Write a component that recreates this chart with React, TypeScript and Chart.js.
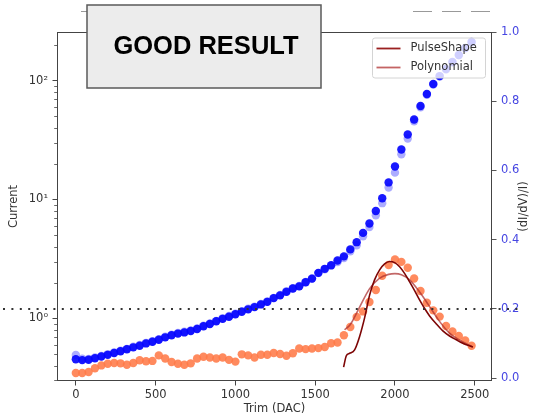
import React, { useEffect, useRef } from 'react';
import { Chart, registerables } from 'chart.js';
Chart.register(...registerables);

// ---- data ----
const trimDAC = [
  0, 40, 80, 120, 160, 200, 240, 280, 320, 360,
  400, 440, 480, 520, 560, 600, 640, 680, 720, 760,
  800, 840, 880, 920, 960, 1000, 1040, 1080, 1120, 1160,
  1200, 1240, 1280, 1320, 1360, 1400, 1440, 1480, 1520, 1560,
  1600, 1640, 1680, 1720, 1760, 1800, 1840, 1880, 1920, 1960,
  2000, 2040, 2080, 2120, 2160, 2200, 2240, 2280, 2320, 2360,
  2400, 2440, 2480,
];

const currentMain = [
  0.452, 0.445, 0.448, 0.461, 0.477, 0.493, 0.511, 0.528, 0.549, 0.570,
  0.587, 0.615, 0.635, 0.660, 0.692, 0.720, 0.744, 0.761, 0.782, 0.813,
  0.857, 0.896, 0.944, 0.990, 1.03, 1.081, 1.134, 1.190, 1.242, 1.309,
  1.376, 1.479, 1.560, 1.670, 1.780, 1.857, 2.008, 2.157, 2.412, 2.607,
  2.799, 3.060, 3.319, 3.80, 4.37, 5.23, 6.28, 8.00, 10.23, 13.9,
  18.9, 26.3, 35.2, 47.0, 61.1, 77.0, 93.5, 109, 125, 143,
  164, 188, 211,
];

const currentRepeat = [
  0.492, 0.458, 0.455, 0.468, 0.482, 0.500, 0.516, 0.535, 0.553, 0.578,
  0.596, 0.622, 0.642, 0.668, 0.700, 0.728, 0.752, 0.770, 0.792, 0.822,
  0.868, 0.905, 0.952, 1.00, 1.045, 1.095, 1.150, 1.205, 1.255, 1.320,
  1.385, 1.485, 1.575, 1.690, 1.790, 1.870, 2.02, 2.16, 2.40, 2.58,
  2.76, 2.98, 3.22, 3.66, 4.12, 4.90, 5.85, 7.35, 9.3, 12.6,
  16.8, 24.0, 32.5, 45.5, 59.5, 76.0, 92.5, 108, 124, 142,
  163, 187, 210,
];

const dIdVoverI = [
  0.015, 0.015, 0.018, 0.029, 0.037, 0.042, 0.044, 0.043, 0.039, 0.044,
  0.052, 0.049, 0.050, 0.066, 0.057, 0.047, 0.042, 0.039, 0.043, 0.057,
  0.062, 0.060, 0.057, 0.060, 0.053, 0.048, 0.069, 0.066, 0.060, 0.068,
  0.068, 0.073, 0.070, 0.065, 0.072, 0.086, 0.084, 0.086, 0.087, 0.090,
  0.101, 0.103, 0.124, 0.148, 0.177, 0.193, 0.220, 0.255, 0.296, 0.327,
  0.343, 0.336, 0.319, 0.288, 0.252, 0.218, 0.196, 0.178, 0.151, 0.135,
  0.122, 0.109, 0.094,
];

const pulseTrim = [1678, 1695, 1716, 1747, 1778, 1810, 1841, 1872, 1904, 1935, 1966, 1998, 2029, 2060, 2091, 2123, 2154, 2185, 2217, 2259, 2300, 2342, 2384, 2425, 2488];
const pulseValue = [0.032, 0.065, 0.072, 0.082, 0.120, 0.175, 0.240, 0.284, 0.313, 0.330, 0.337, 0.334, 0.322, 0.303, 0.279, 0.253, 0.226, 0.202, 0.180, 0.157, 0.137, 0.122, 0.111, 0.101, 0.090];

const polyTrim = [1684, 1720, 1780, 1840, 1900, 1960, 2000, 2040, 2090, 2150, 2210, 2270, 2340, 2400, 2488];
const polyValue = [0.140, 0.155, 0.207, 0.258, 0.288, 0.300, 0.302, 0.299, 0.285, 0.252, 0.212, 0.170, 0.131, 0.111, 0.090];

const xTicks = [0, 500, 1000, 1500, 2000, 2500];
const leftMajorTicks = [1, 10, 100];
const leftMajorLabels = ['10\u2070', '10\u00B9', '10\u00B2'];
const leftMinorTicks = [0.3, 0.4, 0.5, 0.6, 0.7, 0.8, 0.9, 2, 3, 4, 5, 6, 7, 8, 9, 20, 30, 40, 50, 60, 70, 80, 90, 200];
const rightTicks = [0, 0.2, 0.4, 0.6, 0.8, 1.0];
const thresholdLevel = 0.2;
const legendLabels = ['PulseShape', 'Polynomial'];
const bannerText = 'GOOD RESULT';

const FONT = "'DejaVu Sans', sans-serif";
const PULSE_COLOR = '#7d0505';
const POLY_COLOR = 'rgba(170,45,45,0.72)';

export default function App() {
  const ref = useRef<HTMLCanvasElement | null>(null);

  useEffect(() => {
    document.body.style.margin = '0';
    const canvas = ref.current;
    if (!canvas) return;

    const overlay = {
      id: 'overlay',
      afterDatasetsDraw(chart: any) {
        const ctx = chart.ctx;
        const ca = chart.chartArea;
        const y = chart.scales.y;
        const y1 = chart.scales.y1;
        ctx.save();
        ctx.strokeStyle = '#444';
        ctx.lineWidth = 0.8;
        for (const v of leftMinorTicks) {
          const py = Math.round(y.getPixelForValue(v)) + 0.5;
          if (py < ca.top || py > ca.bottom) continue;
          ctx.beginPath();
          ctx.moveTo(ca.left, py);
          ctx.lineTo(ca.left - 2.8, py);
          ctx.stroke();
        }
        ctx.strokeStyle = '#444';
        ctx.lineWidth = 1;
        ctx.strokeRect(ca.left + 0.5, ca.top + 0.5, ca.right - ca.left - 1, ca.bottom - ca.top - 1);
        const ty = y1.getPixelForValue(thresholdLevel);
        ctx.strokeStyle = '#333';
        ctx.lineWidth = 2;
        ctx.setLineDash([2, 6.4]);
        ctx.beginPath();
        ctx.moveTo(3, ty);
        ctx.lineTo(522, ty);
        ctx.stroke();
        ctx.restore();
      },
      afterDraw(chart: any) {
        const ctx = chart.ctx;
        const ca = chart.chartArea;
        ctx.save();
        ctx.fillStyle = '#333';
        ctx.font = `11.5px ${FONT}`;
        ctx.textAlign = 'center';
        ctx.textBaseline = 'middle';
        ctx.fillText('Trim (DAC)', (ca.left + ca.right) / 2, 409);
        const midY = (ca.top + ca.bottom) / 2;
        ctx.save();
        ctx.translate(14, midY);
        ctx.rotate(-Math.PI / 2);
        ctx.fillText('Current', 0, 0);
        ctx.restore();
        ctx.save();
        ctx.translate(524, midY);
        ctx.rotate(-Math.PI / 2);
        ctx.fillText('(dI/dV)/I)', 0, 0);
        ctx.restore();

        const lw = 113, lh = 40;
        const lx = ca.right - 6.5 - lw;
        const ly = ca.top + 6;
        ctx.fillStyle = 'rgba(255,255,255,0.8)';
        ctx.strokeStyle = '#d4d4d4';
        ctx.lineWidth = 1;
        ctx.beginPath();
        (ctx as any).roundRect ? (ctx as any).roundRect(lx, ly, lw, lh, 2.5) : ctx.rect(lx, ly, lw, lh);
        ctx.fill();
        ctx.stroke();
        ctx.textAlign = 'left';
        ctx.font = `11.5px ${FONT}`;
        legendLabels.forEach((lab, i) => {
          const yy = ly + 10.5 + i * 19;
          ctx.strokeStyle = i === 0 ? '#9a2020' : '#c46464';
          ctx.lineWidth = 1.8;
          ctx.beginPath();
          ctx.moveTo(lx + 4, yy);
          ctx.lineTo(lx + 28, yy);
          ctx.stroke();
          ctx.fillStyle = '#333';
          ctx.fillText(lab, lx + 38, yy);
        });

        ctx.strokeStyle = '#999';
        ctx.lineWidth = 1;
        ctx.beginPath();
        ctx.moveTo(81, 11.5);
        ctx.lineTo(87, 11.5);
        ctx.stroke();
        ctx.strokeStyle = '#999';
        ctx.setLineDash([19, 10]);
        ctx.beginPath();
        ctx.moveTo(413, 11.5);
        ctx.lineTo(495, 11.5);
        ctx.stroke();
        ctx.setLineDash([]);

        ctx.fillStyle = '#ececec';
        ctx.strokeStyle = '#5a5a5a';
        ctx.lineWidth = 1.5;
        ctx.fillRect(87, 5, 234, 83);
        ctx.strokeRect(87, 5, 234, 83);
        ctx.fillStyle = '#000';
        ctx.font = `bold 25.5px 'Liberation Sans', Arial, sans-serif`;
        ctx.textAlign = 'center';
        ctx.textBaseline = 'middle';
        ctx.fillText(bannerText, 206, 47);
        ctx.restore();
      },
    };

    const toXY = (xs: number[], ys: number[]) => xs.map((x, i) => ({ x, y: ys[i] }));

    const chart = new Chart(canvas, {
      type: 'scatter',
      data: {
        datasets: [
          {
            label: 'PulseShape',
            data: toXY(pulseTrim, pulseValue),
            yAxisID: 'y1',
            showLine: true,
            borderColor: PULSE_COLOR,
            borderWidth: 1.6,
            pointRadius: 0,
            tension: 0.4,
            cubicInterpolationMode: 'monotone',
          },
          {
            label: 'Polynomial',
            data: toXY(polyTrim, polyValue),
            yAxisID: 'y1',
            showLine: true,
            borderColor: POLY_COLOR,
            borderWidth: 1.6,
            pointRadius: 0,
            tension: 0.4,
            cubicInterpolationMode: 'monotone',
          },
          {
            label: 'dIdV',
            data: toXY(trimDAC, dIdVoverI),
            yAxisID: 'y1',
            backgroundColor: 'rgba(255,122,72,0.88)',
            borderWidth: 0,
            pointRadius: 4.2,
          },
          {
            label: 'Current',
            data: toXY(trimDAC, currentMain),
            yAxisID: 'y',
            backgroundColor: 'rgba(5,5,255,0.92)',
            borderWidth: 0,
            pointRadius: 4.2,
          },
          {
            label: 'Current repeat',
            data: toXY(trimDAC, currentRepeat),
            yAxisID: 'y',
            backgroundColor: 'rgba(70,70,255,0.45)',
            borderWidth: 0,
            pointRadius: 4.2,
          },
        ],
      },
      options: {
        animation: false,
        responsive: true,
        maintainAspectRatio: false,
        layout: { padding: { top: 32, left: 0, right: 0, bottom: 0 } },
        plugins: { legend: { display: false }, tooltip: { enabled: false } },
        scales: {
          x: {
            type: 'linear',
            position: 'bottom',
            min: -118,
            max: 2608,
            afterBuildTicks: (s: any) => { s.ticks = xTicks.map((v) => ({ value: v })); },
            afterFit: (s: any) => { s.height = 36; },
            grid: { drawOnChartArea: false, tickLength: 4.5, tickColor: '#444', color: '#444' },
            border: { display: false },
            ticks: { color: '#333', font: { family: FONT, size: 11.5 }, padding: 3, maxRotation: 0, autoSkip: false, callback: (v: any) => String(v) },
          },
          y: {
            type: 'logarithmic',
            position: 'left',
            min: 0.297,
            max: 256,
            afterBuildTicks: (s: any) => { s.ticks = leftMajorTicks.map((v) => ({ value: v })); },
            afterFit: (s: any) => { s.width = 57; },
            grid: { drawOnChartArea: false, tickLength: 4.5, tickColor: '#444', color: '#444' },
            border: { display: false },
            ticks: {
              color: '#333',
              font: { family: FONT, size: 11.5 },
              padding: 4.5,
              autoSkip: false,
              callback: (v: any) => {
                const i = leftMajorTicks.findIndex((t) => Math.abs(t - Number(v)) < 1e-9);
                return i >= 0 ? leftMajorLabels[i] : '';
              },
            },
          },
          y1: {
            type: 'linear',
            position: 'right',
            min: -0.008,
            max: 1.0,
            afterBuildTicks: (s: any) => { s.ticks = rightTicks.map((v) => ({ value: v })); },
            afterFit: (s: any) => { s.width = 45; },
            grid: { drawOnChartArea: false, tickLength: 4.5, tickColor: '#555', color: '#555' },
            border: { display: false },
            ticks: { color: '#4646e2', font: { family: FONT, size: 11.5 }, padding: 4.5, autoSkip: false, callback: (v: any) => Number(v).toFixed(1) },
          },
        },
      },
      plugins: [overlay],
    } as any);

    return () => chart.destroy();
  }, []);

  return (
    <div style={{ position: 'relative', width: 537, height: 417 }}>
      <canvas ref={ref} />
    </div>
  );
}
